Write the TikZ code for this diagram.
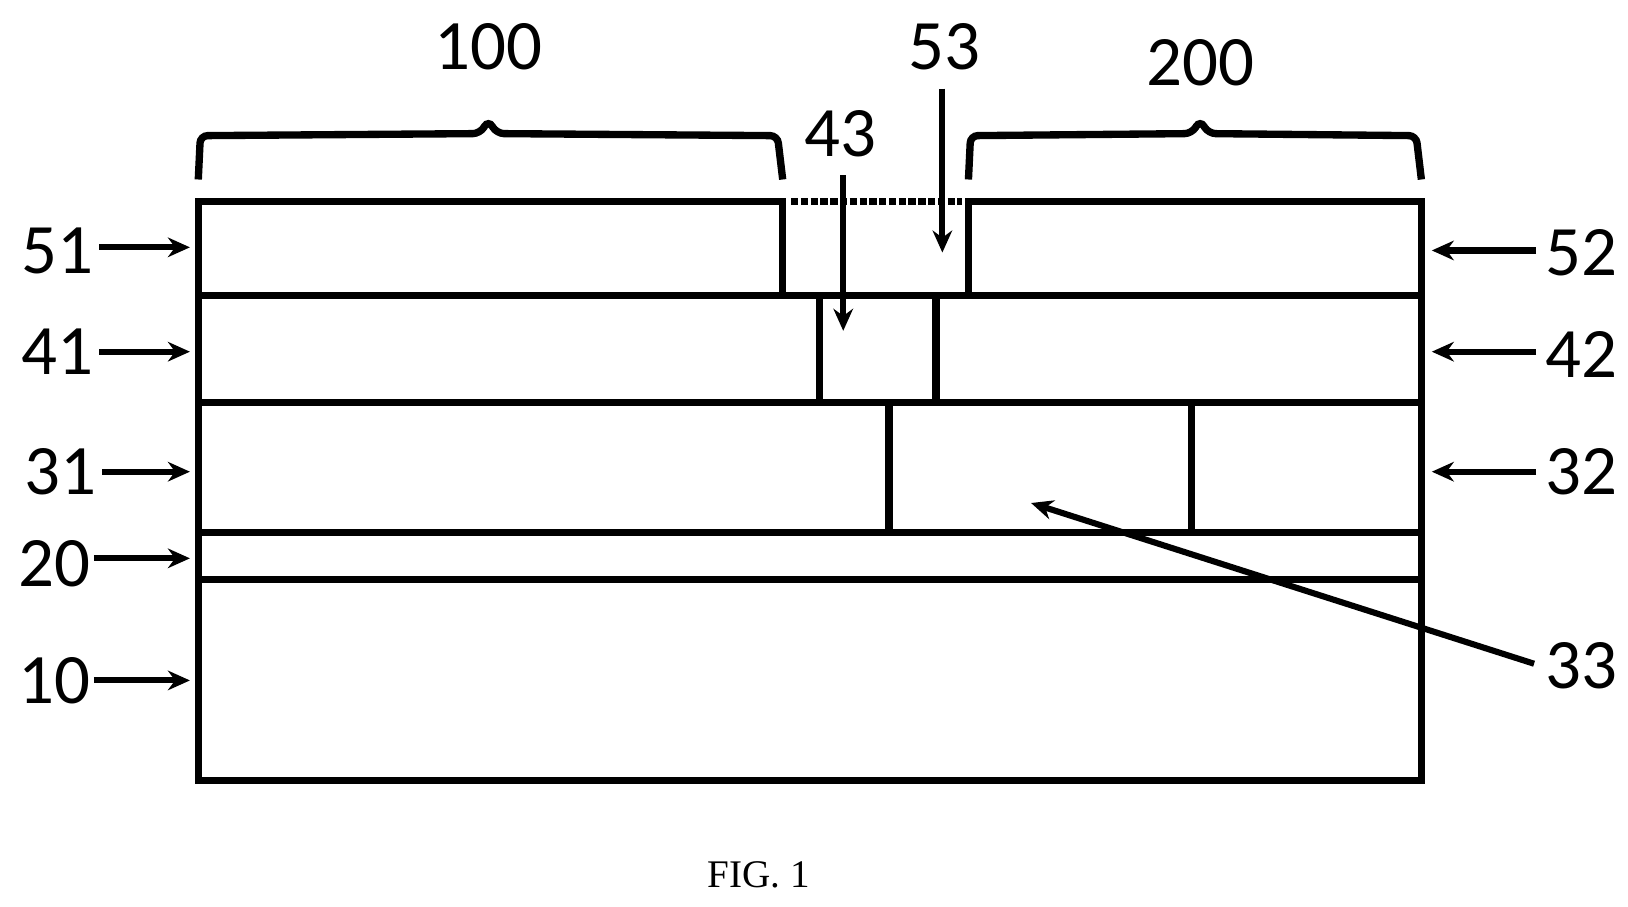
\documentclass[tikz,border=0pt]{standalone}
\usepackage{fontspec}
\setmainfont{Liberation Serif}
\newfontfamily\numfont{Carlito}
\usetikzlibrary{arrows.meta}
\tikzset{
  lbl/.style={font=\numfont\fontsize{58}{60}\selectfont, inner sep=0pt},
  layer/.style={line width=6pt},
  pointer/.style={line width=5pt, -{Stealth[length=18pt,width=16pt]}},
}
\begin{document}
\begin{tikzpicture}[x=0.03cm,y=-0.03cm]
  \useasboundingbox (0,0) rectangle (1560,869);

  % layer stack
  \draw[layer] (190,555) rectangle (1362,748);
  \draw[layer] (190,510) rectangle (1362,555);
  \draw[layer] (190,386) rectangle (1362,510);
  \draw[layer] (852,386) -- (852,510);
  \draw[layer] (1142,386) -- (1142,510);
  \draw[layer] (190,283) rectangle (1362,386);
  \draw[layer] (785,283) -- (785,386);
  \draw[layer] (897,283) -- (897,386);
  \draw[layer] (190,193) rectangle (750,283);
  \draw[layer] (928,193) rectangle (1362,283);
  \draw[line width=6pt, dotted] (758,193) -- (922,193);

  % braces
  \draw[line width=6pt, rounded corners=6pt] (190,172) -- (192,130) -- (460,128) -- (468,115) -- (476,128) -- (745,130) -- (750,172);
  \draw[line width=6pt, rounded corners=6pt] (928,172) -- (930,130) -- (1142,128) -- (1150,115) -- (1158,128) -- (1357,130) -- (1362,172);

  % labels
  \node[lbl] (n100) at (468,45) {100};
  \node[lbl] (n200) at (1150,60) {200};
  \node[lbl] (n53) at (905,45) {53};
  \node[lbl] (n43) at (805,128) {43};
  \node[lbl] (n51) at (55,240) {51};
  \node[lbl] (n41) at (55,337) {41};
  \node[lbl] (n31) at (58,452) {31};
  \node[lbl] (n20) at (52,540) {20};
  \node[lbl] (n10) at (52,652) {10};
  \node[lbl] (n52) at (1515,242) {52};
  \node[lbl] (n42) at (1515,340) {42};
  \node[lbl] (n32) at (1515,452) {32};
  \node[lbl] (n33) at (1515,638) {33};
  \node[font=\fontsize{32}{34}\selectfont] (fig) at (727,838) {FIG. 1};

  % pointers
  \coordinate (t51) at (182,237);
  \coordinate (t41) at (182,337);
  \coordinate (t31) at (182,452);
  \coordinate (t20) at (182,535);
  \coordinate (t10) at (182,652);
  \coordinate (t52) at (1372,240);
  \coordinate (t42) at (1372,337);
  \coordinate (t32) at (1372,452);
  \coordinate (t33) at (988,482);
  \coordinate (t43) at (808,317);
  \coordinate (t53) at (903,242);
  \draw[pointer] (95,237) -- (t51);
  \draw[pointer] (95,337) -- (t41);
  \draw[pointer] (98,452) -- (t31);
  \draw[pointer] (90,535) -- (t20);
  \draw[pointer] (90,652) -- (t10);
  \draw[pointer] (1472,240) -- (t52);
  \draw[pointer] (1472,337) -- (t42);
  \draw[pointer] (1472,452) -- (t32);
  \draw[pointer] (1470,636) -- (t33);
  \draw[pointer] (808,168) -- (t43);
  \draw[pointer] (903,85) -- (t53);
\end{tikzpicture}
\end{document}
